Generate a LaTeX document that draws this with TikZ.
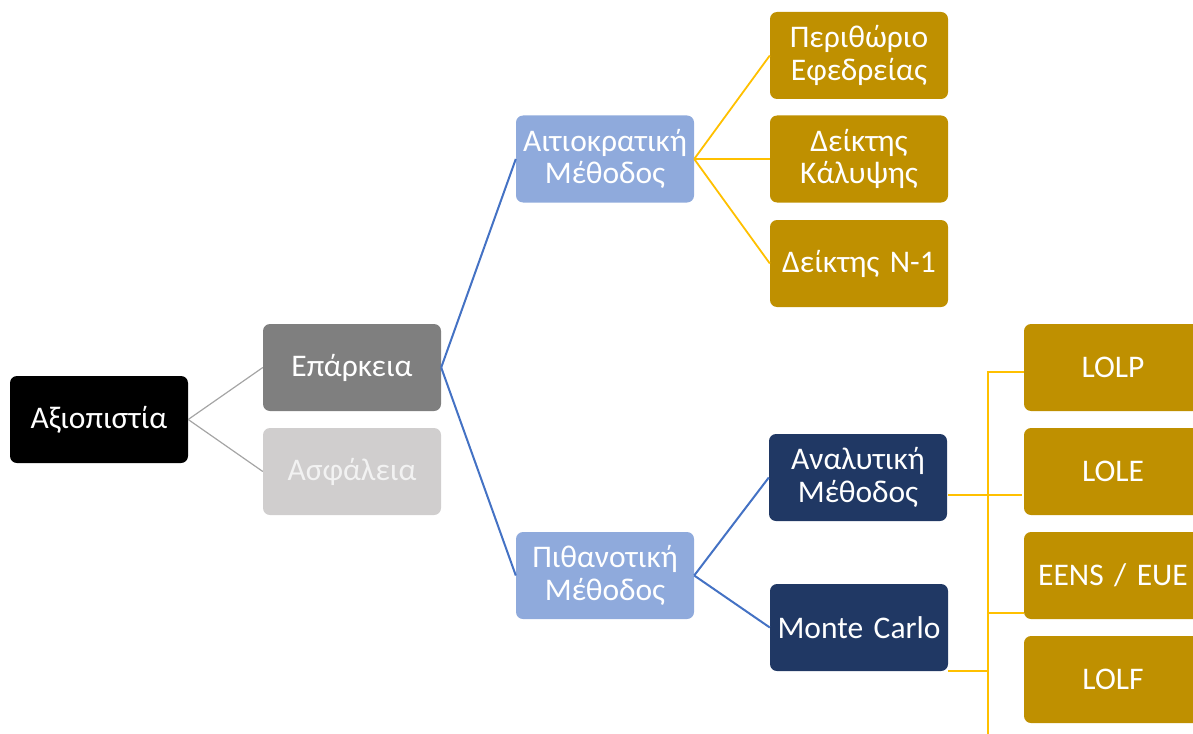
\documentclass[tikz,border=0pt]{standalone}
\usepackage{fontspec}
\setmainfont{Carlito}
\definecolor{cblack}{HTML}{000000}
\definecolor{cgray}{HTML}{7F7F7F}
\definecolor{clight}{HTML}{D0CECE}
\definecolor{cblue}{HTML}{8FAADC}
\definecolor{cgold}{HTML}{BF9000}
\definecolor{cnavy}{HTML}{203864}
\definecolor{lgray}{HTML}{A5A5A5}
\definecolor{lblue}{HTML}{4472C4}
\definecolor{lyellow}{HTML}{FFC000}
\tikzset{
  box/.style={rectangle, rounded corners=7pt, minimum width=178pt, minimum height=87pt,
    text width=176pt, inner sep=1pt, align=center, text=white,
    font=\fontsize{31.5}{32.5}\selectfont},
  glink/.style={draw=lgray, line width=1.2pt},
  blink/.style={draw=lblue, line width=2pt},
  ylink/.style={draw=lyellow, line width=1.8pt},
  ybar/.style={draw=lyellow, line width=2.3pt},
}
\begin{document}
\begin{tikzpicture}[x=1pt,y=-1pt]
\useasboundingbox (0,0) rectangle (1193,733);
\clip (0,0) rectangle (1193,733);
\node[box, fill=cblack] (A) at (99,419.5) {Αξιοπιστία};
\node[box, fill=cgray] (E) at (352,367.5) {Επάρκεια};
\node[box, fill=clight, text=white!95!black] (S) at (352,471.5) {Ασφάλεια};
\node[box, fill=cblue] (AM) at (605,159) {Αιτιοκρατική\\Μέθοδος};
\node[box, fill=cblue] (PM) at (605,575.5) {Πιθανοτική\\Μέθοδος};
\node[box, fill=cgold] (P1) at (859,55.5) {Περιθώριο\\Εφεδρείας};
\node[box, fill=cgold] (P2) at (859,159) {Δείκτης\\Κάλυψης};
\node[box, fill=cgold] (P3) at (859,263.5) {Δείκτης Ν-1};
\node[box, fill=cnavy] (AN) at (858,477.5) {Αναλυτική\\Μέθοδος};
\node[box, fill=cnavy] (MC) at (859,627.5) {Monte Carlo};
\node[box, fill=cgold] (L1) at (1113,367.5) {LOLP};
\node[box, fill=cgold] (L2) at (1113,471.5) {LOLE};
\node[box, fill=cgold] (L3) at (1113,575.5) {EENS / EUE};
\node[box, fill=cgold] (L4) at (1113,679.5) {LOLF};

\draw[glink] (A.east) -- (E.west);
\draw[glink] (A.east) -- (S.west);
\draw[blink] (E.east) -- (AM.west);
\draw[blink] (E.east) -- (PM.west);
\draw[blink] (PM.east) -- (AN.west);
\draw[blink] (PM.east) -- (MC.west);
\draw[ylink] (AM.east) -- (P1.west);
\draw[ylink] (AM.east) -- (P2.west);
\draw[ylink] (AM.east) -- (P3.west);

\coordinate (btop) at (988,372);
\coordinate (bbot) at (988,735);
\coordinate (anout) at (948,495);
\coordinate (anend) at (1022,495);
\coordinate (mcout) at (948,671);
\coordinate (mcend) at (988,671);
\coordinate (l3y) at (988,613);
\draw[ybar] (bbot) -- (btop) -- (btop -| L1.west);
\draw[ybar] (anout) -- (anend);
\draw[ybar] (l3y) -- (l3y -| L3.west);
\draw[ybar] (mcout) -- (mcend);
\end{tikzpicture}
\end{document}
